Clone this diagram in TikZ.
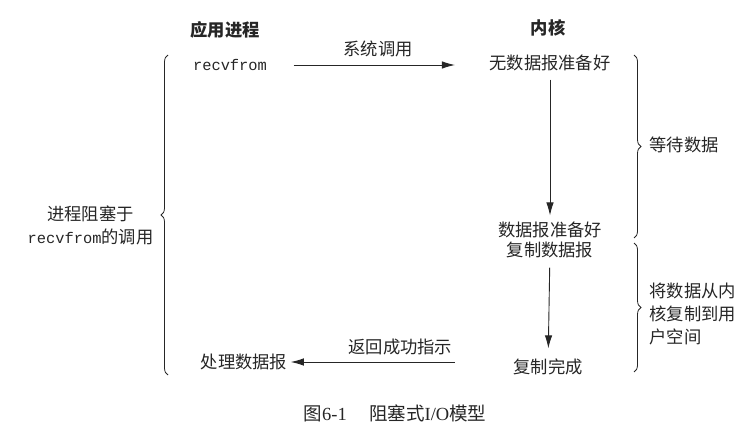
\documentclass[tikz,border=0pt]{standalone}
\usepackage{fontspec}
\setmainfont{Noto Sans CJK SC}
\newfontfamily\code{Liberation Mono}
\newfontfamily\latin{Liberation Serif}
\usetikzlibrary{arrows.meta,decorations.pathreplacing}
\begin{document}
\begin{tikzpicture}[x=1pt,y=1pt,
  every node/.style={text=black!85,font=\fontsize{17.3}{23}\selectfont},
  flow/.style={draw=black!85,line width=0.9pt,-{Latex[length=13pt,width=7.5pt]}},
  brc/.style={draw=black!85,line width=0.8pt,decorate,decoration={brace,amplitude=7pt}}]
\useasboundingbox (0,0) rectangle (755,429);
\node (app) at (225,399) {\bfseries 应用进程};
\node (kern) at (548,401) {\bfseries 内核};
\node (recv) at (230,364) {\fontsize{15.4}{18}\code recvfrom};
\node (nodata) at (550,366) {无数据报准备好};
\node (ready) at (550,199) {数据报准备好};
\node (copy) at (550,179) {复制数据报};
\node (done) at (548,62) {复制完成};
\node (handle) at (244,67) {处理数据报};
\node[anchor=east,align=center] (block) at (157,204) {进程阻塞于\\{\fontsize{15.4}{23}\code recvfrom}的调用};
\node[anchor=west] (wait) at (646,284) {等待数据};
\node[anchor=west,align=left] (copying) at (646,115) {将数据从内\\核复制到用\\户空间};
\node[font=\fontsize{18.5}{22}\selectfont] (caption) at (395,16) {图{\latin 6-1}\hspace{1.2em}阻塞式{\latin I/O}模型};
% arrows
\draw[flow,shorten <=23pt,shorten >=31pt] (recv.east) -- node[above=4pt]{系统调用} (recv.east -| nodata.west);
\draw[flow,shorten <=5pt,shorten >=3pt] (nodata) -- (ready);
\draw[flow,shorten <=6pt,shorten >=7pt] (copy) -- (done);
\draw[flow,shorten <=55pt] (done.west |- handle.east) -- node[above=3pt]{返回成功指示} (handle.east);
% braces
\draw[brc] (168,54) -- (168,374);
\draw[brc] (634,374) -- (634,191);
\draw[brc] (634,186) -- (634,57);
\end{tikzpicture}
\end{document}
